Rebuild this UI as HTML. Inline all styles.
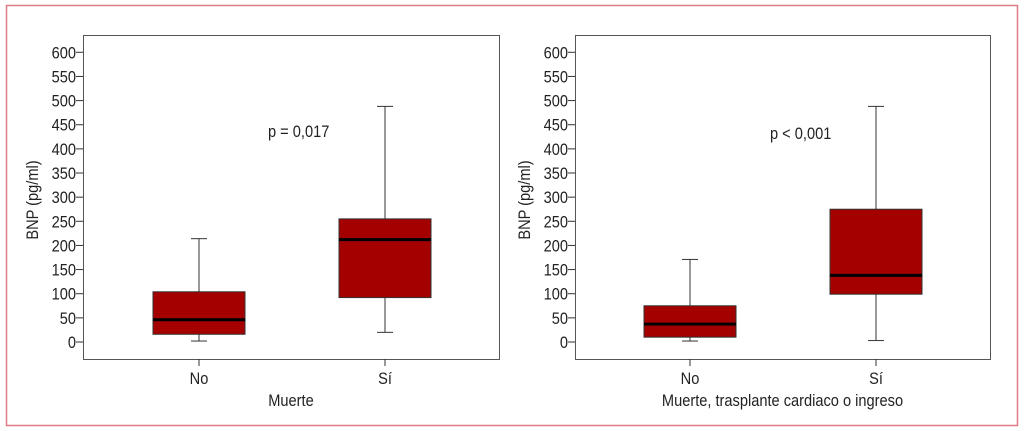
<!DOCTYPE html>
<html><head><meta charset="utf-8"><style>
html,body{margin:0;padding:0;background:#fff;}
svg{display:block;font-family:"Liberation Sans Narrow","Liberation Sans",sans-serif;}
</style></head><body>
<svg id="c" width="1024" height="431" viewBox="0 0 1024 431" xmlns="http://www.w3.org/2000/svg">
<rect x="6.5" y="5.5" width="1011" height="420" fill="none" stroke="#e07a86" stroke-width="1.5"/>
</svg>
<script>
const categories = ["No", "Sí"];
const leftMin = [2, 20];
const leftQ1 = [16, 92];
const leftMedian = [46, 212];
const leftQ3 = [104, 255];
const leftMax = [214, 488];
const rightMin = [2, 3];
const rightQ1 = [10, 99];
const rightMedian = [37, 138];
const rightQ3 = [75, 275];
const rightMax = [171, 488];
const yTicks = [0,50,100,150,200,250,300,350,400,450,500,550,600];
const panelTitles = ["Muerte", "Muerte, trasplante cardiaco o ingreso"];
const pLabels = ["p = 0,017", "p < 0,001"];

const svg = document.getElementById('c');
const NS = 'http://www.w3.org/2000/svg';
function mk(tag, attrs, parent){
  const e = document.createElementNS(NS, tag);
  for (const k in attrs) e.setAttribute(k, attrs[k]);
  (parent||svg).appendChild(e);
  return e;
}
function y(v){ return 342 - v * (289.7/600); }
// condensed text: draw at x with horizontal squeeze
function txt(g, x, yy, s, anchor, size){
  const t = mk('text', {x: 0, y: 0, transform: `translate(${x},${yy}) scale(0.86,1)`, 'text-anchor': anchor, 'font-size': size, fill: '#222'}, g);
  t.textContent = s;
  return t;
}

function panel(idx, fx0, fx1, centers, mins, q1, med, q3, maxs, pX, pY){
  const g = mk('g', {});
  
  
  const fr = mk('rect', {x: fx0+0.5, y: 35.5, width: fx1-fx0, height: 324, fill: 'none', stroke: '#555', 'stroke-width': 1}, g);
  
  
  yTicks.forEach(t => {
    const ln = mk('line', {x1: fx0-7, x2: fx0, y1: y(t), y2: y(t), stroke: '#333', 'stroke-width': 1}, g);
    
    
    const tx = txt(g, fx0-7, y(t)+6, String(t), 'end', 17);
    
    
  });
  const yt = mk('text', {x: 0, y: 0, transform: `translate(${fx0-45},200) rotate(-90) scale(0.86,1)`, 'text-anchor': 'middle', 'font-size': 17, fill: '#222'}, g);
  yt.textContent = 'BNP (pg/ml)';
  
  
  const hw = 46;
  categories.forEach((c, i) => {
    const cx = centers[i];
    const xt = mk('line', {x1: cx, x2: cx, y1: 359, y2: 366, stroke: '#333'}, g);
    
    
    const xl = txt(g, cx, 384, c, 'middle', 17);
    
    
    const w = mk('line', {x1: cx, x2: cx, y1: y(maxs[i]), y2: y(mins[i]), stroke: '#333'}, g);
    
    
    [mins[i], maxs[i]].forEach(v => {
      const cap = mk('line', {x1: cx-8, x2: cx+8, y1: y(v), y2: y(v), stroke: '#333'}, g);
      
      
    });
    const b = mk('rect', {x: cx-hw, y: y(q3[i]), width: hw*2, height: y(q1[i])-y(q3[i]), fill: '#a50000', stroke: '#333', 'stroke-width': 1}, g);
    
    
    const m = mk('line', {x1: cx-hw, x2: cx+hw, y1: y(med[i]), y2: y(med[i]), stroke: '#000', 'stroke-width': 3}, g);
    
    
  });
  const at = txt(g, (fx0+fx1)/2, 406, panelTitles[idx], 'middle', 17);
  
  
  const pt = txt(g, pX, pY, pLabels[idx], 'start', 17);
  
  
}
panel(0, 83, 499, [199, 385], leftMin, leftQ1, leftMedian, leftQ3, leftMax, 268, 137);
panel(1, 575, 990, [690, 876], rightMin, rightQ1, rightMedian, rightQ3, rightMax, 770, 139);
</script>
</body></html>
